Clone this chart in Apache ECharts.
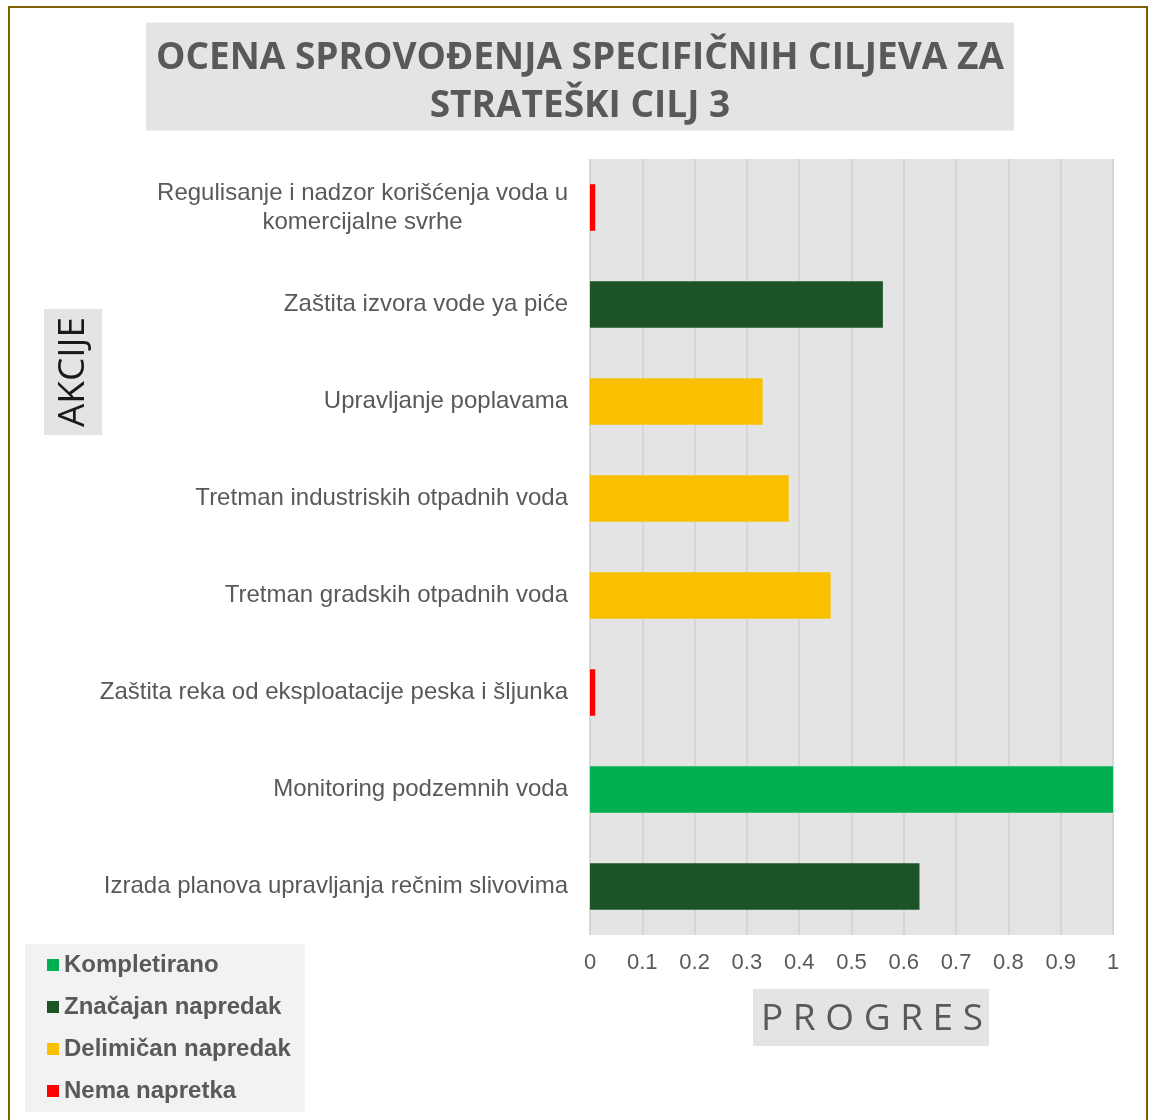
<!DOCTYPE html>
<html>
<head>
  <meta charset="utf-8">
  <title>Ocena sprovođenja specifičnih ciljeva</title>
  <script src="https://cdn.jsdelivr.net/npm/echarts@6/dist/echarts.min.js"></script>
  <style>
    html, body { margin: 0; padding: 0; background: #fff; }
    #chart { width: 1149px; height: 1120px; }
  </style>
</head>
<body>
<div id="chart"></div>
<script>
  // akcije, od vrha ka dnu
  const categories = [
    'Regulisanje i nadzor korišćenja voda u\nkomercijalne svrhe',
    'Zaštita izvora vode ya piće',
    'Upravljanje poplavama',
    'Tretman industriskih otpadnih voda',
    'Tretman gradskih otpadnih voda',
    'Zaštita reka od eksploatacije peska i šljunka',
    'Monitoring podzemnih voda',
    'Izrada planova upravljanja rečnim slivovima'
  ];
  const progress = [0.01, 0.56, 0.33, 0.38, 0.46, 0.01, 1, 0.63];
  const status = ['Nema napretka', 'Značajan napredak', 'Delimičan napredak', 'Delimičan napredak',
    'Delimičan napredak', 'Nema napretka', 'Kompletirano', 'Značajan napredak'];

  const statusNames = ['Kompletirano', 'Značajan napredak', 'Delimičan napredak', 'Nema napretka'];
  const statusColors = ['#00b050', '#1c5428', '#fac000', '#ff0000'];

  const titleLines = ['OCENA SPROVOĐENJA SPECIFIČNIH CILJEVA ZA', 'STRATEŠKI CILJ 3'];

  const textGray = '#595959';
  const chart = echarts.init(document.getElementById('chart'));

  // svaka linija centrirana u bloku
  function centerLines(lines) {
    return lines.map(function (l) { return '{c|' + l + '}'; }).join('\n');
  }

  const series = statusNames.map(function (name, k) {
    return {
      name: name,
      type: 'bar',
      stack: 'all',
      barWidth: '48%',
      itemStyle: { color: statusColors[k] },
      data: progress.map(function (v, i) { return status[i] === name ? v : '-'; })
    };
  });

  chart.setOption({
    animation: false,
    title: {
      text: centerLines(titleLines),
      left: 146,
      top: 17,
      backgroundColor: '#e4e4e4',
      padding: [17, 10, 6, 10],
      textStyle: {
        rich: {
          c: {
            align: 'center',
            fontFamily: 'Open Sans',
            fontWeight: 'bold',
            fontSize: 37,
            lineHeight: 48,
            color: textGray
          }
        }
      }
    },
    legend: {
      orient: 'vertical',
      left: 25,
      top: 944,
      backgroundColor: '#f2f2f2',
      padding: [9, 14, 9, 22],
      itemGap: 18,
      itemWidth: 12,
      itemHeight: 12,
      icon: 'rect',
      data: statusNames,
      textStyle: {
        fontFamily: 'Liberation Sans',
        fontWeight: 'bold',
        fontSize: 24,
        color: textGray
      }
    },
    grid: {
      left: 590,
      right: 36,
      top: 159,
      bottom: 185,
      show: true,
      backgroundColor: '#e4e4e4',
      borderWidth: 0
    },
    xAxis: {
      type: 'value',
      min: 0,
      max: 1,
      interval: 0.1,
      axisLine: { show: false },
      axisTick: { show: false },
      splitLine: { lineStyle: { color: '#d6d6d6', width: 2 } },
      axisLabel: {
        margin: 17,
        fontFamily: 'Liberation Sans',
        fontSize: 22,
        color: textGray
      }
    },
    yAxis: {
      type: 'category',
      inverse: true,
      data: categories,
      axisLine: { show: false },
      axisTick: { show: false },
      axisLabel: {
        margin: 22,
        formatter: function (v) { return centerLines(v.split('\n')); },
        rich: {
          c: {
            align: 'center',
            fontFamily: 'Liberation Sans',
            fontSize: 24,
            lineHeight: 29,
            color: textGray
          }
        }
      }
    },
    graphic: [
      {
        type: 'rect',
        silent: true,
        shape: { x: 9, y: 7, width: 1138, height: 1140 },
        style: { fill: null, stroke: '#7f6000', lineWidth: 2 }
      },
      {
        type: 'rect',
        shape: { x: 44, y: 309, width: 58, height: 126 },
        style: { fill: '#e4e4e4' }
      },
      {
        type: 'text',
        x: 73,
        y: 372,
        rotation: Math.PI / 2,
        style: {
          text: 'AKCIJE',
          align: 'center',
          verticalAlign: 'middle',
          fontFamily: 'Open Sans',
          fontSize: 37,
          fill: '#1a1a1a'
        }
      },
      {
        type: 'rect',
        shape: { x: 753, y: 989, width: 236, height: 57 },
        style: { fill: '#e4e4e4' }
      },
      {
        type: 'text',
        x: 872,
        y: 1019,
        style: {
          text: 'P R O G R E S',
          align: 'center',
          verticalAlign: 'middle',
          fontFamily: 'Open Sans',
          fontSize: 37,
          fill: textGray
        }
      }
    ],
    series: series
  });
</script>
</body>
</html>
